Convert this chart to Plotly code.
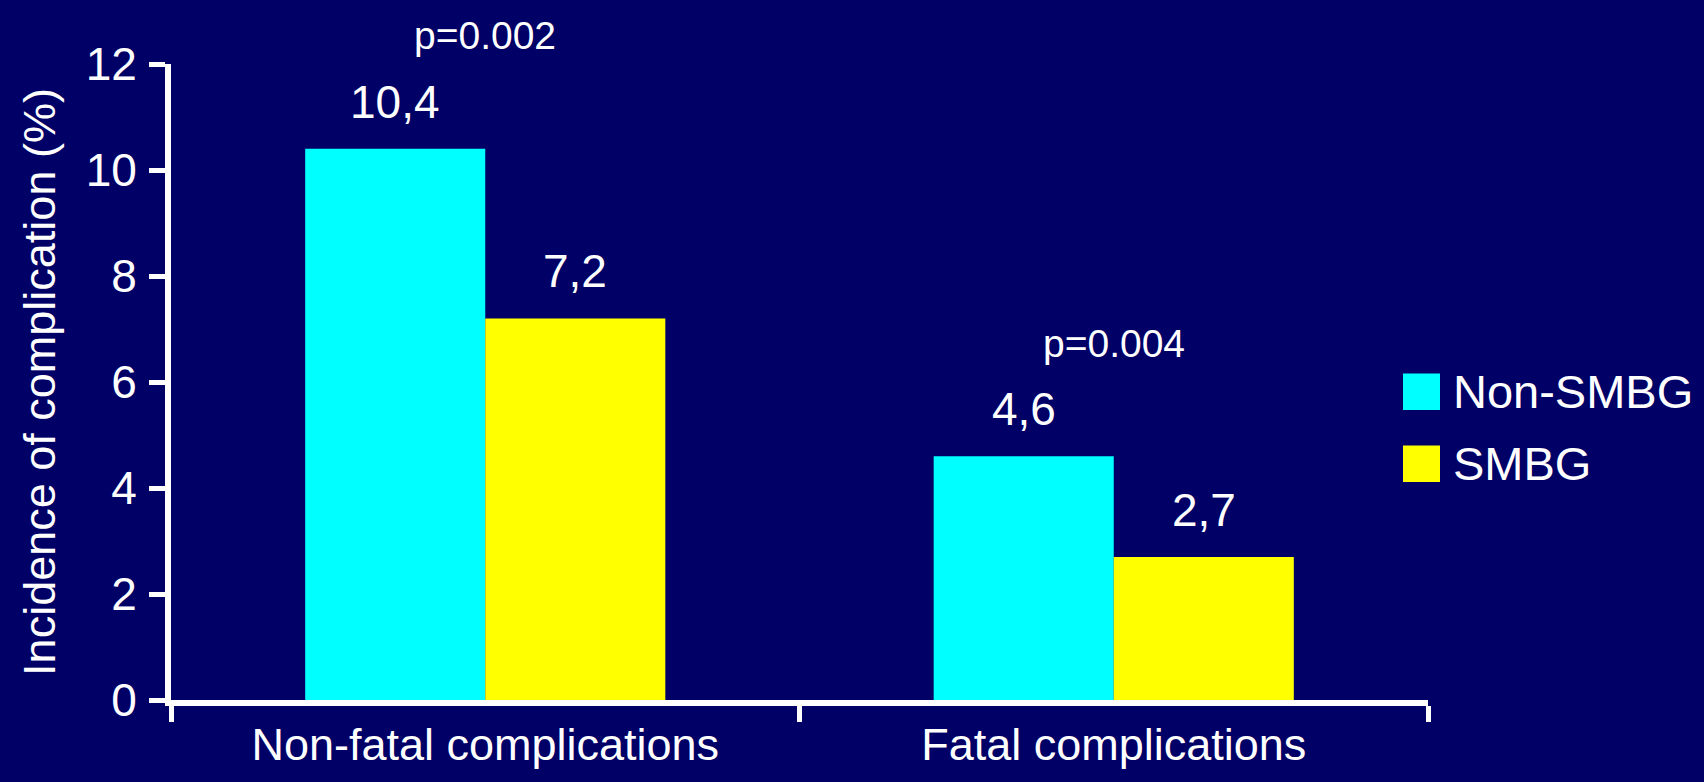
import plotly.graph_objects as go

# Data
categories = ["Non-fatal complications", "Fatal complications"]
series_names = ["Non-SMBG", "SMBG"]
non_smbg = [10.4, 4.6]
smbg = [7.2, 2.7]
p_values = ["p=0.002", "p=0.004"]
y_ticks = [0, 2, 4, 6, 8, 10, 12]

BG = "#000066"
CYAN = "#00FFFF"
YELLOW = "#FFFF00"
FONT = "Liberation Sans, Arial, sans-serif"

W, H = 1704, 782
margin = dict(l=171, r=276, t=64, b=73)
plot_w = W - margin["l"] - margin["r"]
plot_h = H - margin["t"] - margin["b"]
bargap = 0.427

fig = go.Figure()
fig.add_trace(go.Bar(x=categories, y=non_smbg, name=series_names[0],
                     marker=dict(color=CYAN, line=dict(width=0)), showlegend=False))
fig.add_trace(go.Bar(x=categories, y=smbg, name=series_names[1],
                     marker=dict(color=YELLOW, line=dict(width=0)), showlegend=False))

# value labels above each bar (comma as decimal separator)
bar_px = plot_w / len(categories) * (1 - bargap) / 2
for vals, shift in ((non_smbg, -bar_px / 2), (smbg, bar_px / 2)):
    for cat, v in zip(categories, vals):
        fig.add_annotation(x=cat, y=v, xshift=shift, yshift=19, yanchor="bottom",
                           text=f"{v:.1f}".replace(".", ","), showarrow=False,
                           font=dict(size=46, color="white", family=FONT))

# p-values above each group
for cat, p, a, b in zip(categories, p_values, non_smbg, smbg):
    fig.add_annotation(x=cat, y=max(a, b), yshift=113, yanchor="middle",
                       text=p, showarrow=False,
                       font=dict(size=39, color="white", family=FONT))

# legend drawn as squares with labels
def px_to_paper(px, py):
    return (px - margin["l"]) / plot_w, (H - margin["b"] - py) / plot_h

legend_rows = [(series_names[0], CYAN, 396), (series_names[1], YELLOW, 469)]
for name, color, cy in legend_rows:
    x0, y0 = px_to_paper(1403, cy - 18)
    x1, y1 = px_to_paper(1440, cy + 19)
    fig.add_shape(type="rect", xref="paper", yref="paper", x0=x0, x1=x1, y0=y1, y1=y0,
                  fillcolor=color, line=dict(width=0))
    tx, ty = px_to_paper(1451, cy)
    fig.add_annotation(xref="paper", yref="paper", x=tx, y=ty, xanchor="left",
                       yanchor="middle", text=name, showarrow=False,
                       font=dict(size=47, color="white", family=FONT))

fig.update_layout(
    width=W, height=H, margin=margin,
    paper_bgcolor=BG, plot_bgcolor=BG,
    barmode="group", bargap=bargap, bargroupgap=0,
    font=dict(family=FONT, color="white"),
    xaxis=dict(
        range=[-0.5, 1.5], tickson="boundaries", ticks="outside", ticklen=16,
        tickwidth=5, tickcolor="white", showline=True, linecolor="white",
        linewidth=6, showgrid=False, zeroline=False,
        tickfont=dict(size=45, color="white", family=FONT),
    ),
    yaxis=dict(
        range=[0, 12], tickvals=y_ticks, ticks="outside", ticklen=16,
        tickwidth=5, tickcolor="white", showline=True, linecolor="white",
        linewidth=6, showgrid=False, zeroline=False, ticklabelstandoff=3,
        tickfont=dict(size=46, color="white", family=FONT),
        title=dict(text="Incidence of complication (%)", standoff=18,
                   font=dict(size=45, color="white", family=FONT)),
    ),
)

fig.write_html("out.html")
